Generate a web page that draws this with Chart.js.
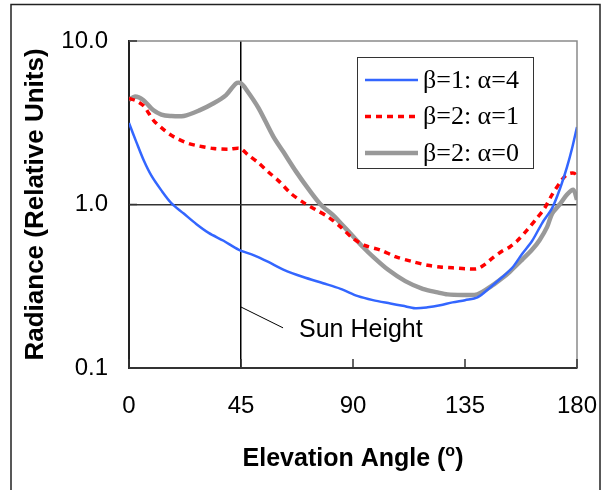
<!DOCTYPE html>
<html>
<head>
<meta charset="utf-8">
<script src="https://cdn.jsdelivr.net/npm/chart.js@4.4.0/dist/chart.umd.min.js"></script>
<style>
  html, body { margin: 0; padding: 0; background: #fff; }
  canvas { display: block; }
</style>
</head>
<body>
<canvas id="radianceChart" width="603" height="490"></canvas>
<script>
// Elevation angle ticks and radiance ticks
const angleTicks = [0, 45, 90, 135, 180];
const radianceTicks = [0.1, 1, 10];

// β=1: α=4
const blueAngles = [0, 3, 6, 9, 13, 17, 22, 27, 32, 38, 44, 50, 56, 62, 70, 78, 85, 92, 98, 105, 110, 115, 120, 125, 130, 135, 140, 145, 150, 154, 158, 162, 166, 170, 173, 176, 178, 180];
const blueValues = [3.15, 2.4, 1.85, 1.5, 1.22, 1.02, 0.88, 0.76, 0.67, 0.6, 0.53, 0.49, 0.445, 0.4, 0.36, 0.33, 0.305, 0.275, 0.26, 0.248, 0.24, 0.232, 0.235, 0.242, 0.252, 0.26, 0.27, 0.31, 0.36, 0.41, 0.5, 0.6, 0.77, 0.95, 1.23, 1.7, 2.2, 2.98];

// β=2: α=1
const redAngles = [0, 3, 6, 8, 10, 13, 16.5, 20, 24, 28, 34, 40, 44.6, 48, 52, 56, 60, 65, 70, 75, 80, 85, 90, 95, 101, 107, 114, 120, 125, 130, 135, 140, 143, 146, 150, 153, 156, 160, 164, 167, 170, 173, 175, 177, 179, 180];
const redValues = [4.46, 4.3, 4.0, 3.6, 3.25, 2.95, 2.68, 2.5, 2.36, 2.28, 2.2, 2.18, 2.2, 2.0, 1.8, 1.58, 1.4, 1.17, 1.03, 0.93, 0.84, 0.73, 0.62, 0.56, 0.527, 0.48, 0.447, 0.425, 0.415, 0.41, 0.405, 0.405, 0.43, 0.47, 0.52, 0.55, 0.6, 0.7, 0.83, 0.95, 1.15, 1.35, 1.48, 1.55, 1.55, 1.45];

// β=2: α=0
const grayAngles = [0, 2.4, 5.7, 9.7, 13, 16.5, 22, 28.5, 34, 39, 43, 45, 47.3, 52, 58, 62, 67, 72, 77, 82, 85, 90, 94, 98, 104, 111, 118, 124, 128, 134, 140, 146, 150, 153, 158, 162, 165, 168, 170, 173, 176, 178.5, 180];
const grayValues = [4.36, 4.57, 4.36, 3.78, 3.55, 3.48, 3.48, 3.78, 4.16, 4.67, 5.5, 5.5, 5.0, 3.9, 2.6, 2.1, 1.6, 1.25, 1.0, 0.86, 0.77, 0.64, 0.55, 0.48, 0.4, 0.34, 0.305, 0.29, 0.282, 0.28, 0.282, 0.32, 0.355, 0.388, 0.46, 0.53, 0.607, 0.73, 0.88, 1.0, 1.15, 1.23, 1.07];

const seriesLabels = ["β=1: α=4", "β=2: α=1", "β=2: α=0"];
const sunAngle = 45;

const toPoints = (xs, ys) => xs.map((x, i) => ({ x: x, y: ys[i] }));

// frame, borders, inner ticks, legend and labels
const decorPlugin = {
  id: "decor",
  beforeDraw(chart) {
    const ctx = chart.ctx;
    ctx.save();
    ctx.fillStyle = "#fff";
    ctx.fillRect(0, 0, chart.width, chart.height);
    ctx.strokeStyle = "#222";
    ctx.lineWidth = 1.5;
    ctx.strokeRect(11, 4.5, 589, 520);
    ctx.restore();
  },
  afterDatasetsDraw(chart) {
    const ctx = chart.ctx;
    const ca = chart.chartArea;
    const xs = chart.scales.x;
    const ys = chart.scales.y;
    ctx.save();

    // top and right border (gray)
    ctx.strokeStyle = "#8a8a8a";
    ctx.lineWidth = 1.5;
    ctx.beginPath();
    ctx.moveTo(ca.left, ca.top);
    ctx.lineTo(ca.right, ca.top);
    ctx.lineTo(ca.right, ca.bottom);
    ctx.stroke();

    // inward ticks
    ctx.strokeStyle = "#333";
    ctx.lineWidth = 1.5;
    ctx.beginPath();
    angleTicks.forEach((a) => {
      const px = xs.getPixelForValue(a);
      ctx.moveTo(px, ca.bottom);
      ctx.lineTo(px, ca.bottom - 9);
    });
    radianceTicks.forEach((v) => {
      const py = ys.getPixelForValue(v);
      ctx.moveTo(ca.left, py);
      ctx.lineTo(ca.left + 8, py);
    });
    ctx.stroke();

    // Sun Height annotation
    ctx.strokeStyle = "#000";
    ctx.lineWidth = 1;
    ctx.beginPath();
    ctx.moveTo(xs.getPixelForValue(sunAngle), ys.getPixelForValue(0.236));
    ctx.lineTo(xs.getPixelForValue(61.9), ys.getPixelForValue(0.176));
    ctx.stroke();
    ctx.fillStyle = "#000";
    ctx.font = "25px 'Liberation Sans', Arial, sans-serif";
    ctx.textAlign = "left";
    ctx.textBaseline = "alphabetic";
    ctx.fillText("Sun Height", xs.getPixelForValue(68.3), ys.getPixelForValue(0.155));

    // legend
    const lx = ca.right - 220;
    const ly = ca.top + 16;
    ctx.fillStyle = "#fff";
    ctx.fillRect(lx, ly, 176, 111);
    ctx.strokeStyle = "#333";
    ctx.lineWidth = 1;
    ctx.strokeRect(lx + 0.5, ly + 0.5, 176, 111);
    chart.data.datasets.forEach((ds, i) => {
      const rowY = ly + 23 + i * 36.5;
      ctx.strokeStyle = ds.borderColor;
      ctx.lineWidth = ds.borderWidth;
      ctx.setLineDash(ds.borderDash || []);
      ctx.beginPath();
      ctx.moveTo(lx + 8, rowY);
      ctx.lineTo(lx + 61, rowY);
      ctx.stroke();
      ctx.setLineDash([]);
      ctx.fillStyle = "#000";
      ctx.font = "26px 'Liberation Serif', 'Times New Roman', serif";
      ctx.textBaseline = "middle";
      ctx.fillText(ds.label, lx + 66, rowY + 1);
    });

    // x axis title with superscript
    const cx = (ca.left + ca.right) / 2;
    const by = 466;
    ctx.textBaseline = "alphabetic";
    ctx.fillStyle = "#000";
    const big = "bold 25px 'Liberation Sans', Arial, sans-serif";
    const small = "bold 16px 'Liberation Sans', Arial, sans-serif";
    ctx.font = big;
    const w1 = ctx.measureText("Elevation Angle (").width;
    const w3 = ctx.measureText(")").width;
    ctx.font = small;
    const w2 = ctx.measureText("o").width;
    let x0 = cx - (w1 + w2 + w3) / 2;
    ctx.font = big;
    ctx.fillText("Elevation Angle (", x0, by);
    ctx.font = small;
    ctx.fillText("o", x0 + w1, by - 10);
    ctx.font = big;
    ctx.fillText(")", x0 + w1 + w2, by);

    ctx.restore();
  },
};

const ctx = document.getElementById("radianceChart").getContext("2d");
new Chart(ctx, {
  type: "line",
  data: {
    datasets: [
      {
        label: seriesLabels[0],
        data: toPoints(blueAngles, blueValues),
        borderColor: "#3366ff",
        borderWidth: 2.5,
      },
      {
        label: seriesLabels[1],
        data: toPoints(redAngles, redValues),
        borderColor: "#ff0000",
        borderWidth: 3.5,
        borderDash: [6, 5],
      },
      {
        label: seriesLabels[2],
        data: toPoints(grayAngles, grayValues),
        borderColor: "#999999",
        borderWidth: 4.5,
      },
    ],
  },
  options: {
    responsive: false,
    animation: false,
    devicePixelRatio: 1,
    layout: { padding: { top: 41, right: 26, left: 0, bottom: 0 } },
    elements: { point: { radius: 0 }, line: { tension: 0.3, fill: false } },
    plugins: { legend: { display: false }, tooltip: { enabled: false } },
    scales: {
      x: {
        type: "linear",
        min: 0,
        max: 180,
        afterFit: (scale) => {
          scale.height = 122;
          scale.paddingLeft = 0;
          scale.paddingRight = 0;
        },
        afterBuildTicks: (scale) => { scale.ticks = angleTicks.map((v) => ({ value: v })); },
        ticks: {
          padding: 24,
          color: "#000",
          font: { family: "'Liberation Sans', Arial, sans-serif", size: 24 },
        },
        grid: {
          drawTicks: false,
          lineWidth: 1.5,
          color: (c) => (c.tick && c.tick.value === sunAngle ? "#000" : "rgba(0,0,0,0)"),
        },
        border: { display: true, color: "#333", width: 2 },
      },
      y: {
        type: "logarithmic",
        min: 0.1,
        max: 10,
        afterFit: (scale) => { scale.width = 129; },
        afterBuildTicks: (scale) => { scale.ticks = radianceTicks.map((v) => ({ value: v })); },
        ticks: {
          padding: 21,
          color: "#000",
          font: { family: "'Liberation Sans', Arial, sans-serif", size: 24 },
          callback: (value) => Number(value).toFixed(1),
        },
        grid: {
          drawTicks: false,
          lineWidth: 1.5,
          color: (c) => (c.tick && c.tick.value === 1 ? "#333" : "rgba(0,0,0,0)"),
        },
        border: { display: true, color: "#222", width: 2 },
        title: {
          display: true,
          text: "Radiance (Relative Units)",
          color: "#000",
          padding: { top: 20, bottom: 0 },
          font: { family: "'Liberation Sans', Arial, sans-serif", size: 26, weight: "bold" },
        },
      },
    },
  },
  plugins: [decorPlugin],
});
</script>
</body>
</html>
